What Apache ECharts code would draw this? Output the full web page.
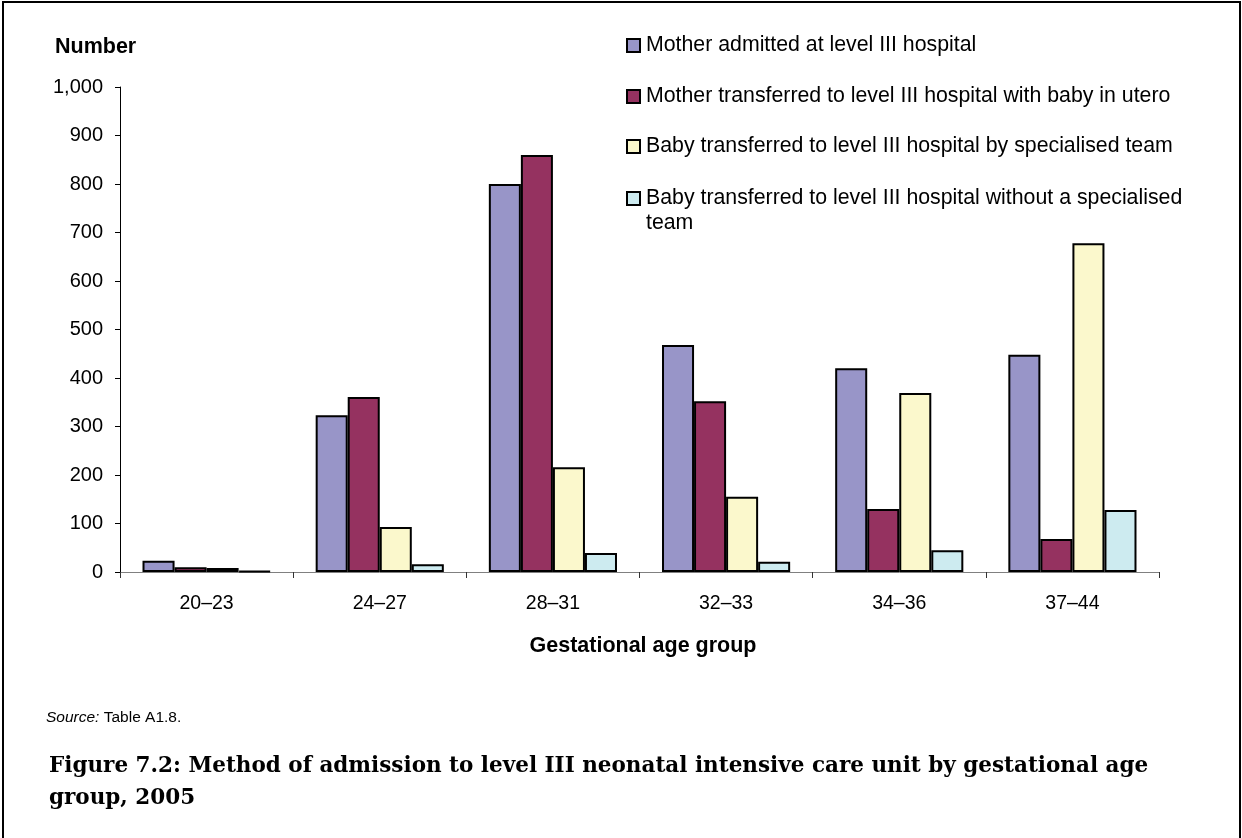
<!DOCTYPE html>
<html>
<head>
<meta charset="utf-8">
<script src="https://cdn.jsdelivr.net/npm/echarts@6/dist/echarts.min.js"></script>
<style>
  html, body { margin: 0; padding: 0; background: #fff; }
  #chart { width: 1242px; height: 838px; }
</style>
</head>
<body>
<div id="chart"></div>
<script>
// Gestational age groups and admission counts, 2005
const categories = ['20–23', '24–27', '28–31', '32–33', '34–36', '37–44'];
const seriesNames = [
  'Mother admitted at level III hospital',
  'Mother transferred to level III hospital with baby in utero',
  'Baby transferred to level III hospital by specialised team',
  'Baby transferred to level III hospital without a specialised team'
];
const motherAdmitted = [23, 323, 800, 468, 420, 448];
const motherTransferred = [10, 361, 860, 352, 130, 68];
const babySpecialised = [8, 93, 216, 155, 369, 678];
const babyNotSpecialised = [2, 16, 39, 21, 45, 128];
const yTicks = { min: 0, max: 1000, interval: 100 };

const colors = ['#9895C8', '#953260', '#FBF8CC', '#CDEBF0'];
const values = [motherAdmitted, motherTransferred, babySpecialised, babyNotSpecialised];
const font = 'Liberation Sans, Arial, sans-serif';

const chart = echarts.init(document.getElementById('chart'), null, { renderer: 'canvas' });

// One legend block per series so each entry sits on its own row;
// the last entry wraps, with its first line kept level with the swatch.
const legendTops = [33, 84, 134, 161];
const legends = seriesNames.map((name, i) => ({
  data: [name],
  left: 626,
  top: legendTops[i],
  orient: 'vertical',
  icon: 'rect',
  itemWidth: 13,
  itemHeight: 13,
  itemGap: 0,
  padding: 0,
  selectedMode: false,
  itemStyle: { borderColor: '#000', borderWidth: 2 },
  formatter: n => n === seriesNames[3]
    ? '\nBaby transferred to level III hospital without a specialised\nteam'
    : n,
  textStyle: { fontFamily: font, fontSize: 21.3, color: '#000', lineHeight: 25, padding: [0, 0, 0, 1] }
}));

chart.setOption({
  animation: false,
  backgroundColor: '#fff',
  grid: { left: 120, right: 83, top: 87, bottom: 266, containLabel: false },
  legend: legends,
  xAxis: {
    type: 'category',
    data: categories,
    name: 'Gestational age group',
    nameLocation: 'middle',
    nameGap: 63,
    nameTextStyle: { fontFamily: font, fontSize: 21.5, fontWeight: 'bold', color: '#000', padding: [0, 0, 0, 7] },
    axisLine: { lineStyle: { color: '#808080', width: 1 } },
    axisTick: { show: true, length: 6, alignWithLabel: false, lineStyle: { color: '#333' } },
    axisLabel: { fontFamily: font, fontSize: 19.5, color: '#000', margin: 22 },
    splitLine: { show: false }
  },
  yAxis: {
    type: 'value',
    min: yTicks.min,
    max: yTicks.max,
    interval: yTicks.interval,
    axisLine: { show: true, lineStyle: { color: '#000', width: 1 } },
    axisTick: { show: true, length: 5, inside: false, lineStyle: { color: '#000' } },
    axisLabel: {
      fontFamily: font, fontSize: 20, color: '#000', margin: 17,
      formatter: v => v.toLocaleString('en-US')
    },
    splitLine: { show: false }
  },
  series: seriesNames.map((name, i) => ({
    name: name,
    type: 'bar',
    data: values[i],
    barGap: '0%',
    barCategoryGap: '26%',
    itemStyle: { color: colors[i], borderColor: '#000', borderWidth: 2 }
  })),
  graphic: [
    {
      type: 'rect',
      shape: { x: 3, y: 2, width: 1237, height: 860 },
      style: { fill: 'none', stroke: '#000', lineWidth: 2 },
      silent: true
    },
    {
      type: 'text',
      left: 55, top: 36,
      style: { text: 'Number', fontFamily: font, fontSize: 21.5, fontWeight: 'bold', fill: '#000' }
    },
    {
      type: 'text',
      left: 46, top: 710,
      style: {
        text: '{i|Source:} Table A1.8.',
        rich: {
          i: { fontFamily: font, fontSize: 15.5, fontStyle: 'italic', fill: '#000' }
        },
        fontFamily: font, fontSize: 15.5, fill: '#000'
      }
    },
    {
      type: 'text',
      left: 49, top: 750,
      style: {
        text: 'Figure 7.2: Method of admission to level III neonatal intensive care unit by gestational age\ngroup, 2005',
        fontFamily: 'DejaVu Serif, serif', fontSize: 21.5, fontWeight: 'bold', fill: '#000', lineHeight: 32
      }
    }
  ]
});
</script>
</body>
</html>
